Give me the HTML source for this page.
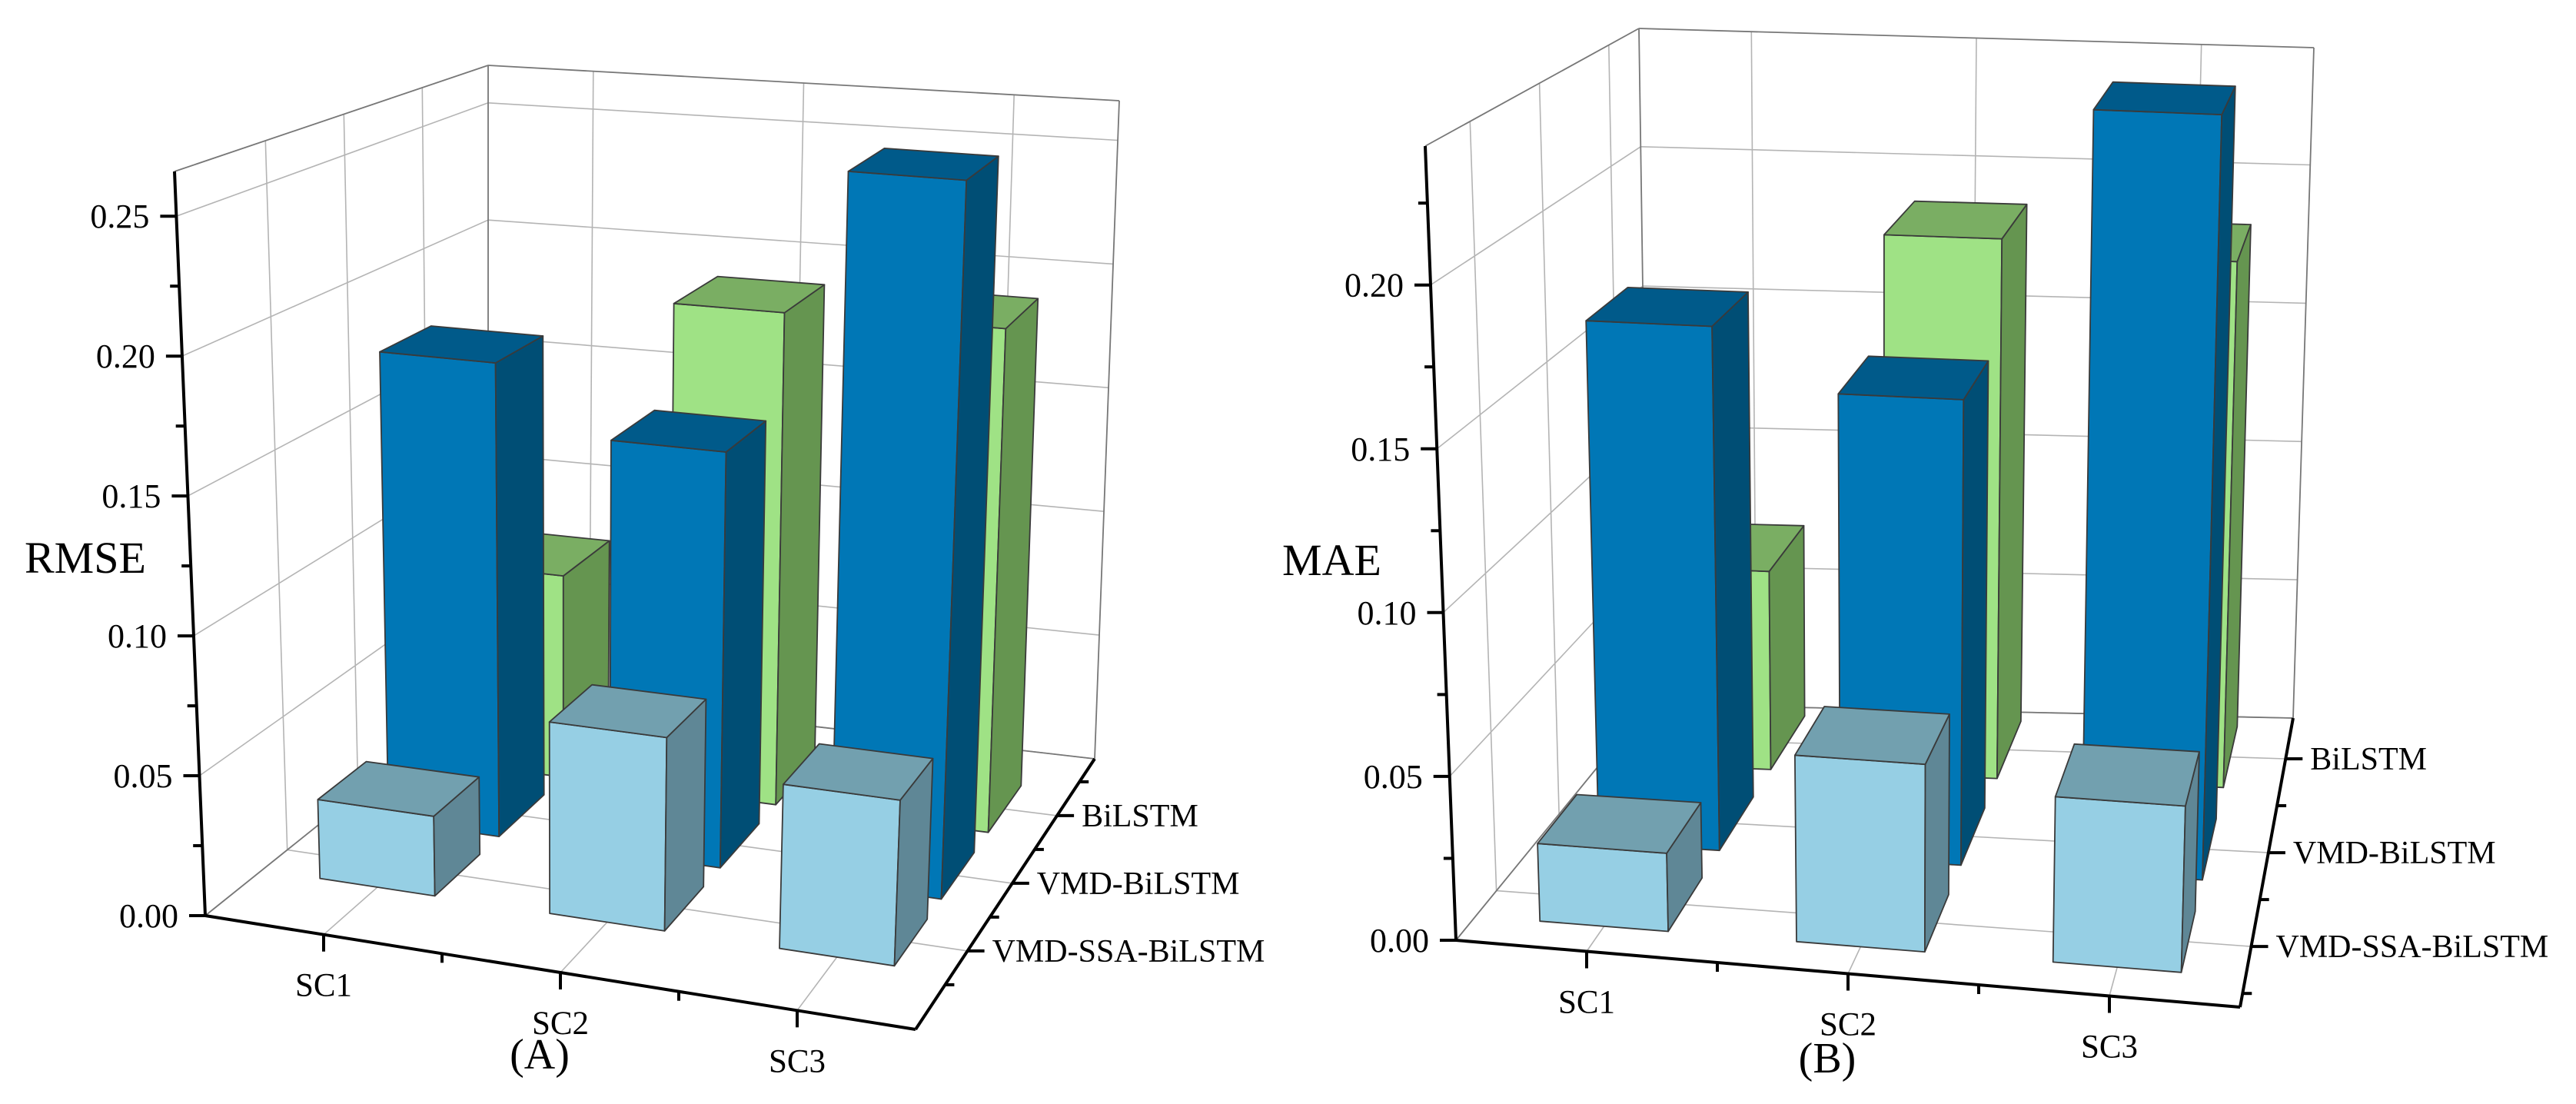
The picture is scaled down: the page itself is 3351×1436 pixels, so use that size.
<!DOCTYPE html>
<html><head><meta charset="utf-8">
<style>
html,body{margin:0;padding:0;background:#fff;}
svg{display:block;}
text{font-family:"Liberation Serif","Times New Roman",serif;}
</style></head>
<body>
<svg id="fig" width="3351" height="1436" viewBox="0 0 3351 1436" xmlns="http://www.w3.org/2000/svg" font-family="Liberation Serif, serif">
<rect x="0" y="0" width="3351" height="1436" fill="#fff"/>
<g id="chartA"></g>
<g id="chartB"></g>
</svg>
<script>
const categories = ['SC1','SC2','SC3'];
const models = ['VMD-SSA-BiLSTM','VMD-BiLSTM','BiLSTM'];
const rmseSSA = [0.029, 0.069, 0.058];
const rmseVMD = [0.18, 0.155, 0.263];
const rmseBi  = [0.08, 0.192, 0.193];
const maeSSA = [0.024, 0.057, 0.05];
const maeVMD = [0.17, 0.15, 0.245];
const maeBi  = [0.068, 0.185, 0.18];
const rmseTicks = ['0.00','0.05','0.10','0.15','0.20','0.25'];
const maeTicks = ['0.00','0.05','0.10','0.15','0.20'];

const NS='http://www.w3.org/2000/svg';
function mk(tag, attrs, parent){
  const e=document.createElementNS(NS,tag);
  for(const k in attrs) e.setAttribute(k,attrs[k]);
  parent.appendChild(e);
  return e;
}
const FONT='Liberation Serif, serif';
const colors=[
  {front:'#96CFE4',top:'#72A0AF',side:'#5F8796'},
  {front:'#0077B6',top:'#005A8A',side:'#004E75'},
  {front:'#9FE285',top:'#7AAE63',side:'#659550'}
];

function drawChart(g, cfg){
  const C=cfg.corners;
  function lerp(a,b,t){return [a[0]+(b[0]-a[0])*t, a[1]+(b[1]-a[1])*t];}
  function P(u,v,w){
    const b=lerp(lerp(C.FLB,C.FRB,u), lerp(C.BLB,C.BRB,u), v);
    const t=lerp(lerp(C.FLT,C.FRT,u), lerp(C.BLT,C.BRT,u), v);
    return lerp(b,t,w);
  }
  const xU = i => (i+0.5)/3;
  const xUc = c => (c-0.5)/3;
  const dV = k => (k-cfg.dmin)/(cfg.dmax-cfg.dmin);
  const zW = val => val/cfg.zmax;
  function line(a,b,stroke,sw,name){
    const l=mk('line',{x1:a[0].toFixed(1),y1:a[1].toFixed(1),x2:b[0].toFixed(1),y2:b[1].toFixed(1),stroke:stroke,'stroke-width':sw},g);
    
    
    return l;
  }
  const grid='#b4b4b4';
  const nT=cfg.ticks.length;
  for(let t=0;t<nT;t++){
    const w=zW(t*0.05);
    line(P(0,0,w),P(0,1,w),grid,1.6,'left-wall-gridline');
    line(P(0,1,w),P(1,1,w),grid,1.6,'back-wall-gridline');
  }
  for(let k=1;k<=3;k++){
    const v=dV(k);
    line(P(0,v,0),P(0,v,1),grid,1.6,'left-wall-gridline');
    line(P(0,v,0),P(1,v,0),grid,1.6,'floor-gridline');
  }
  for(let i=0;i<3;i++){
    const u=xU(i);
    line(P(u,1,0),P(u,1,1),grid,1.6,'back-wall-gridline');
    line(P(u,0,0),P(u,1,0),grid,1.6,'floor-gridline');
  }
  line(P(0,0,1),P(0,1,1),'#777',1.8,'box-edge');
  line(P(0,1,1),P(1,1,1),'#777',1.8,'box-edge');
  line(P(0,1,0),P(0,1,1),'#777',1.8,'box-edge');
  line(P(1,1,0),P(1,1,1),'#777',1.8,'box-edge');
  line(P(0,1,0),P(1,1,0),'#777',1.8,'box-edge');
  line(P(0,0,0),P(0,1,0),'#777',1.8,'box-edge');

  const series=cfg.series;
  const hx=0.25/3, hd=cfg.halfDepth/(cfg.dmax-cfg.dmin);
  for(let k=3;k>=1;k--){
    const vals=series[k-1], col=colors[k-1];
    for(let i=0;i<3;i++){
      const u0=xU(i)-hx,u1=xU(i)+hx,v0=dV(k)-hd,v1=dV(k)+hd,w=zW(vals[i]);
      const bar=mk('g',{},g);
      
      
      const faces=[
        [[P(u0,v0,0),P(u1,v0,0),P(u1,v0,w),P(u0,v0,w)],col.front,'bar-front-face'],
        [[P(u1,v0,0),P(u1,v1,0),P(u1,v1,w),P(u1,v0,w)],col.side,'bar-side-face'],
        [[P(u0,v0,w),P(u1,v0,w),P(u1,v1,w),P(u0,v1,w)],col.top,'bar-top-face']
      ];
      faces.forEach(f=>{
        const p=mk('polygon',{points:f[0].map(q=>q[0].toFixed(1)+','+q[1].toFixed(1)).join(' '),fill:f[1],stroke:'#3a3a3a','stroke-width':1.8,'stroke-linejoin':'round'},bar);
        
        
      });
    }
  }

  line(P(0,0,0),P(0,0,1),'#000',4,'y-axis-line');
  line(P(0,0,0),P(1,0,0),'#000',4,'x-axis-line');
  line(P(1,0,0),P(1,1,0),'#000',4,'depth-axis-line');
  for(let t=0;t*0.025<=cfg.zmax;t++){
    const p=P(0,0,zW(t*0.025));
    const major=t%2===0;
    line(p,[p[0]-(major?21:12),p[1]],'#000',4,major?'y-major-tick':'y-minor-tick');
    if(major && t/2<nT){
      const tx=mk('text',{x:(p[0]-35).toFixed(1),y:(p[1]+15).toFixed(1),'font-size':44,'font-family':FONT,'text-anchor':'end',fill:'#000'},g);
      
      
      tx.textContent=cfg.ticks[t/2];
    }
  }
  for(let c=1;c<=3;c+=0.5){
    const p=P(xUc(c),0,0);
    const major=Number.isInteger(c);
    line(p,[p[0],p[1]+(major?22:12)],'#000',4,major?'x-major-tick':'x-minor-tick');
    if(major){
      const tx=mk('text',{x:p[0].toFixed(1),y:(p[1]+80).toFixed(1),'font-size':43,'font-family':FONT,'text-anchor':'middle',fill:'#000'},g);
      
      
      tx.textContent=categories[c-1];
    }
  }
  for(let k=0.5;k<=3.5;k+=0.5){
    const v=dV(k); if(v<0||v>1) continue;
    const p=P(1,v,0);
    const major=Number.isInteger(k);
    line(p,[p[0]+(major?22:12),p[1]],'#000',4,major?'depth-major-tick':'depth-minor-tick');
    if(major){
      const tx=mk('text',{x:(p[0]+32).toFixed(1),y:(p[1]+14).toFixed(1),'font-size':42,'font-family':FONT,fill:'#000'},g);
      
      
      tx.textContent=models[k-1];
    }
  }
  const yt=mk('text',{x:cfg.ytitle[0],y:cfg.ytitle[1],'font-size':58,'font-family':FONT,fill:'#000'},g);
  
  
  yt.textContent=cfg.ytitleText;
  const pl=mk('text',{x:cfg.panel[0],y:cfg.panel[1],'font-size':56,'font-family':FONT,'text-anchor':'middle',fill:'#000'},g);
  
  
  pl.textContent=cfg.panelText;
}

drawChart(document.getElementById('chartA'),{
  corners:{FLB:[267,1191],FRB:[1191,1339],BRB:[1424,987],BLB:[635,896],
           FLT:[227,223],FRT:[1234,311],BRT:[1456,131],BLT:[635,85]},
  dmin:-0.16,dmax:3.84,halfDepth:0.35,zmax:0.266,
  ticks:rmseTicks, series:[rmseSSA,rmseVMD,rmseBi],
  ytitle:[32,745], ytitleText:'RMSE', panel:[702,1390], panelText:'(A)'
});
drawChart(document.getElementById('chartB'),{
  corners:{FLB:[1894,1223],FRB:[2914,1310],BRB:[2983,934],BLB:[2145,916],
           FLT:[1854,190],FRT:[2946,238],BRT:[3010,62],BLT:[2132,37]},
  dmin:0.354,dmax:3.434,halfDepth:0.33,zmax:0.2424,
  ticks:maeTicks, series:[maeSSA,maeVMD,maeBi],
  ytitle:[1668,748], ytitleText:'MAE', panel:[2377,1395], panelText:'(B)'
});
</script>
</body></html>
